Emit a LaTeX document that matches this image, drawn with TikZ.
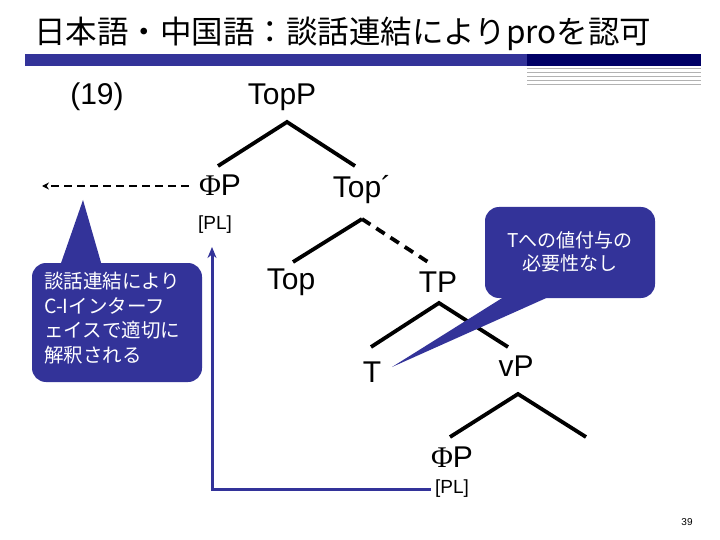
\documentclass[tikz,border=0pt]{standalone}
\usepackage{fontspec}
\setmainfont{Liberation Sans}
\newfontfamily\cjk{Noto Sans CJK JP}
\newfontfamily\serifgr{Liberation Serif}
\usetikzlibrary{arrows.meta,calc}
\definecolor{pptblue}{HTML}{333399}
\definecolor{navy}{HTML}{000066}
\begin{document}
\begin{tikzpicture}[x=1pt,y=-1pt,
  lbl/.style={font=\fontsize{30}{32}\selectfont, inner sep=0pt},
  pl/.style={font=\fontsize{19}{21}\selectfont, inner sep=0pt},
  branch/.style={line width=3.8pt},
  dbranch/.style={branch, dash pattern=on 10pt off 7pt},
  calloutbox/.style={fill=pptblue, rounded corners=14pt},
  ctext/.style={text=white, font=\cjk\fontsize{19.5}{24.5}\selectfont, inner sep=0pt}]
\useasboundingbox (0,0) rectangle (720,540);
\fill[white] (0,0) rectangle (720,540);
% title and bar
\node[anchor=west, font=\cjk\fontsize{31.5}{33}\selectfont, inner sep=0pt] (title) at (34,34) {日本語・中国語：談話連結によりproを認可};
\fill[pptblue] (25,54) rectangle (527,66);
\fill[navy] (527,54) rectangle (701,66);
\foreach \yy in {68.5,72.5,76.7,80.8,84.5} \draw[black!30, line width=0.8pt] (527,\yy) -- (701,\yy);
% labels
\node[lbl] (ex) at (97,97) {(19)};
\node[lbl] (topP) at (282,97) {TopP};
\node[lbl] (phiP) at (220,185) {{\serifgr Φ}P};
\node[pl] (pl1) at (215,225) {[PL]};
\node[lbl] (topbar) at (362,190) {Top´};
\node[lbl] (top) at (291,282) {Top};
\node[lbl] (TP) at (438,282) {TP};
\node[lbl] (T) at (372,372) {T};
\node[lbl] (vP) at (516,366) {vP};
\node[lbl] (phiP2) at (452,457) {{\serifgr Φ}P};
\node[pl] (pl2) at (452,489) {[PL]};
% tree coordinates
\coordinate (a1) at (287,122); \coordinate (l1) at (218,166); \coordinate (r1) at (355,166);
\coordinate (a2) at (362,219); \coordinate (l2) at (293,262); \coordinate (r2) at (428,262);
\coordinate (a3) at (439,303); \coordinate (l3) at (371,347); \coordinate (r3) at (508,347);
\coordinate (a4) at (518,394); \coordinate (l4) at (450,437); \coordinate (r4) at (586,437);
\draw[branch] (l1) -- (a1) -- (r1);
\draw[branch] (l2) -- (a2);
\draw[dbranch] (a2) -- (r2);
\draw[branch] (l3) -- (a3) -- (r3);
\draw[branch] (l4) -- (a4) -- (r4);
% dashed arrow
\coordinate (dend) at (42,186);
\draw[line width=2.2pt, dash pattern=on 8pt off 5pt, -{Stealth[length=7pt,width=7pt]}] (phiP.west) ++(-10,1) -- (dend);
% blue arrow
\coordinate (upend) at (212,247);
\draw[pptblue, line width=3pt, -{Stealth[length=11pt,width=9pt]}, shorten <=4pt] (pl2.west) -| (upend);
% left callout
\fill[pptblue] (60,266) -- (83,200) -- (102,266) -- cycle;
\fill[calloutbox] (32,263) rectangle (202,382);
\node[ctext, anchor=north west, align=left] (c1) at (44,272) {談話連結により\\C-Iインターフ\\ェイスで適切に\\解釈される};
% right callout
\fill[pptblue] (507,295) -- (392,367) -- (553,295) -- cycle;
\fill[calloutbox] (485,207) rectangle (655,298);
\node[ctext, align=center, font=\cjk\fontsize{19}{23}\selectfont] (c2) at (570,252) {Tへの値付与の\\必要性なし};
% page number
\node[font=\fontsize{10}{12}\selectfont, inner sep=0pt] (page) at (687,522) {39};
\end{tikzpicture}
\end{document}
